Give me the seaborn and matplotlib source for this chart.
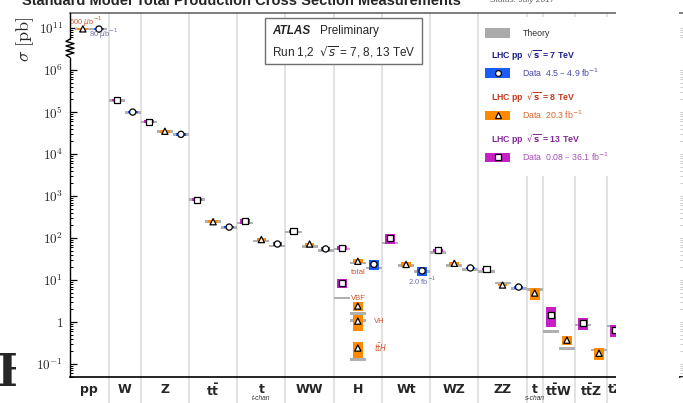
import numpy as np
import pandas as pd
import matplotlib
matplotlib.use('Agg')
import matplotlib.pyplot as plt
import seaborn as sns
from matplotlib.patches import Rectangle
from matplotlib.transforms import Bbox

# ---- values ----
categories = ['pp', 'W', 'Z', 'tt', 't_t', 'WW', 'H', 'Wt', 'WZ', 'ZZ', 't_s', 'ttW', 'ttZ', 'tZ']
cat_labels = ['pp', 'W', 'Z', r'$\mathbf{t\bar{t}}$', 't', 'WW', 'H', 'Wt', 'WZ', 'ZZ', 't',
              r'$\mathbf{t\bar{t}W}$', r'$\mathbf{t\bar{t}Z}$', 'tZ']
cat_sub = {'t_t': 't-chan', 't_s': 's-chan'}

meas_proc = ['pp', 'pp', 'W', 'W', 'Z', 'Z', 'Z', 'tt', 'tt', 'tt', 't_t', 't_t', 't_t',
             'WW', 'WW', 'WW', 'H', 'H', 'H', 'H', 'H', 'H', 'H', 'Wt', 'Wt', 'Wt',
             'WZ', 'WZ', 'WZ', 'ZZ', 'ZZ', 'ZZ', 't_s', 'ttW', 'ttW', 'ttZ', 'ttZ', 'tZ']
meas_sqrts = [8, 7, 13, 7, 13, 8, 7, 13, 8, 7, 13, 8, 7,
              13, 8, 7, 13, 8, 7, 13, 8, 8, 8, 13, 8, 7,
              13, 8, 7, 13, 8, 7, 8, 13, 8, 13, 8, 13]
meas_xsec = [9.6e10, 9.5e10, 1.95e5, 1.0e5, 5.9e4, 3.5e4, 2.95e4, 820, 245, 182, 252, 92, 72,
             147, 72, 55, 58, 28, 23.6, 8.4, 2.4, 1.05, 0.24, 100, 23.5, 16.5,
             51, 25, 19.4, 18.2, 7.6, 6.8, 4.9, 1.5, 0.37, 0.95, 0.18, 0.64]
meas_err = [1.5e9, 2e9, 6e3, 3e3, 2e3, 1e3, 1e3, 35, 10, 7, 35, 7, 8,
            12, 6, 5, 5, 3, 6.5, 2, 0.55, 0.45, 0.1, 28, 3.5, 4.3,
            2.5, 1.2, 1.2, 1.2, 0.5, 0.6, 1.6, 0.75, 0.09, 0.3, 0.055, 0.21]
theory_xsec = [9.6e10, 9.5e10, 1.9e5, 9.8e4, 5.8e4, 3.4e4, 2.9e4, 830, 250, 177, 229, 85, 65,
               140, 63, 50, 55, 25.5, 19.4, 3.7, 1.6, 1.1, 0.13, 76, 22, 15.7,
               45, 22, 18, 16, 8.5, 6.2, 6.0, 0.6, 0.23, 0.85, 0.215, 0.8]
meas_note = ['500 $\\mu$b$^{-1}$', '80 $\\mu$b$^{-1}$', '', '', '', '', '', '', '', '', '', '', '',
             '', '', '', '', 'total', '', '', 'VBF', 'VH', r'$t\bar{t}H$', '', '', '2.0 fb$^{-1}$',
             '', '', '', '', '', '', '', '', '', '', '', '']

# ---- layout / style ----
cat_width = [2.4, 2, 3, 3, 3, 3, 3, 3, 3, 3, 1, 2, 2, 1.0]
first_offset = {'pp': 0.8}
colors = {7: '#1a5cf5', 8: '#ff8a00', 13: '#c51fc5'}
markers = {13: 's', 8: '^', 7: 'o'}
note_style = {  # dx, dy in pixels, ha, colour
    '500 $\\mu$b$^{-1}$': (3, -7, 'center', '#d0603e'),
    '80 $\\mu$b$^{-1}$': (5, 5, 'center', '#7070b0'),
    'total': (0, 11, 'center', '#d0502a'),
    'VBF': (1, -8, 'center', '#d0502a'),
    'VH': (16, 0, 'left', '#d0502a'),
    r'$t\bar{t}H$': (16, 0, 'left', '#d0502a'),
    '2.0 fb$^{-1}$': (0, 10, 'center', '#7070b0'),
}

sns.set_theme(style='white')
plt.rcParams['font.family'] = ['Liberation Sans', 'DejaVu Sans']
plt.rcParams['mathtext.fontset'] = 'dejavusans'


# broken log axis: 10^6.4 .. 10^10.6 squeezed into 0.2 decade
def fwd(s):
    L = np.log10(np.clip(np.asarray(s, float), 1e-300, None))
    return np.where(L <= 6.4, L, np.where(L >= 10.6, L - 4.0, 6.4 + (L - 6.4) * 0.2 / 4.2))


def inv(u):
    u = np.asarray(u, float)
    return np.where(u <= 6.4, 10.0 ** u,
                    np.where(u >= 6.6, 10.0 ** (u + 4.0), 10.0 ** (6.4 + (u - 6.4) * 21.0)))


df = pd.DataFrame({'proc': meas_proc, 'sqrts': meas_sqrts, 'xsec': meas_xsec,
                   'err': meas_err, 'theory': theory_xsec, 'note': meas_note})

edges = np.concatenate([[0], np.cumsum(cat_width)])
left = dict(zip(categories, edges[:-1]))
centers = (edges[:-1] + edges[1:]) / 2
slot = []
for p, e in zip(df['proc'], df['sqrts']):
    present = sorted(df.loc[df['proc'] == p, 'sqrts'].unique(), reverse=True)
    slot.append(present.index(e))
df['x'] = [left[p] + first_offset.get(p, 0.5) + k for p, k in zip(df['proc'], slot)]

W, H = 683, 403
AXL, AXR, AXT, AXB = 70, 683, 13, 377
PXU = 42.0  # pixels per decade
SLOT = 16.08  # pixels per slot
fig = plt.figure(figsize=(W / 100, H / 100), dpi=100)
ax = fig.add_axes([AXL / W, (H - AXB) / H, (AXR - AXL) / W, (AXB - AXT) / H])


def axf(px, py):
    return (px - AXL) / (AXR - AXL), (AXB - py) / (AXB - AXT)


ax.set_yscale('function', functions=(fwd, inv))
ylim = (float(inv(-1.31)), float(inv(7.36)))

# category separators
for xe in edges[1:-1]:
    ax.axvline(xe, ymin=-(H - AXB) / (AXB - AXT), ymax=1, color='#dddddd', lw=1.2,
               zorder=0.5, clip_on=False)

# theory bands
u_th = fwd(df['theory'])
h_th = 1.3 / PXU
ax.bar(df['x'], inv(u_th + h_th) - inv(u_th - h_th), bottom=inv(u_th - h_th), width=1.0,
       color='#b0b0b0', edgecolor='none', zorder=2)

# data uncertainty boxes
u = fwd(df['xsec'])
u_lo = np.minimum(fwd(np.clip(df['xsec'] - df['err'], 1e-6, None)), u - 1.3 / PXU)
u_hi = np.maximum(fwd(df['xsec'] + df['err']), u + 1.3 / PXU)
ax.bar(df['x'], inv(u_hi) - inv(u_lo), bottom=inv(u_lo), width=0.6,
       color=[colors[e] for e in df['sqrts']], edgecolor='none', zorder=3)

sns.scatterplot(data=df, x='x', y='xsec', style='sqrts', markers=markers, color='white',
                edgecolor='black', linewidth=0.9, s=20, legend=False, ax=ax, zorder=5)

for _, r in df[df['note'] != ''].iterrows():
    dx, dy, ha, c = note_style[r['note']]
    ax.annotate(r['note'], (r['x'], r['xsec']), xytext=(dx * 0.72, -dy * 0.72),
                textcoords='offset points', ha=ha, va='center', fontsize=5.5, color=c, zorder=6)

ax.set_xlim(0, (AXR - AXL) / SLOT)
ax.set_ylim(*ylim)
ax.set_xlabel('')
ax.set_ylabel('')

# axes frame
for s in ['left', 'right']:
    ax.spines[s].set_visible(False)
ax.spines['bottom'].set_color('black')
ax.spines['bottom'].set_linewidth(1.2)
ax.spines['top'].set_color('#666666')
ax.spines['top'].set_linewidth(1.2)
ytr = ax.get_yaxis_transform()
ax.plot([0, 0], [ylim[0], float(inv(6.30))], transform=ytr, color='black', lw=1.0,
        clip_on=False, zorder=6)
ax.plot([0, 0], [float(inv(6.74)), ylim[1]], transform=ytr, color='black', lw=1.0,
        clip_on=False, zorder=6)
zz_u = np.linspace(6.30, 6.74, 9)
zz_x = np.array([0, -1, 1, -1, 1, -1, 1, -1, 0]) * 4.0 / (AXR - AXL)
ax.plot(zz_x, inv(zz_u), transform=ytr, color='black', lw=1.0, clip_on=False, zorder=6)

major_vals = [0.1, 1, 10, 1e2, 1e3, 1e4, 1e5, 1e6, 1e11]
major_lbls = [r'$10^{-1}$', r'$1$', r'$10^{1}$', r'$10^{2}$', r'$10^{3}$', r'$10^{4}$',
              r'$10^{5}$', r'$10^{6}$', r'$10^{11}$']
minor_vals = [m * 10.0 ** d for d in list(range(-2, 7)) + [10] for m in range(2, 10)]
minor_vals = [v for v in minor_vals
              if ylim[0] < v < ylim[1] and (fwd(v) < 6.28 or fwd(v) > 6.76)]
ax.set_yticks(major_vals)
ax.set_yticklabels(major_lbls, fontsize=9.5, math_fontfamily='cm')
ax.set_yticks(minor_vals, minor=True)
ax.tick_params(axis='y', which='major', left=True, direction='in', length=5, width=0.9,
               color='black', pad=5)
ax.tick_params(axis='y', which='minor', left=True, direction='in', length=2.5, width=0.7,
               color='black')
ax.set_xticks(centers)
ax.set_xticklabels(cat_labels, fontsize=9, fontweight='bold', family='DejaVu Sans')
ax.tick_params(axis='x', length=0, pad=4)
for c, xc in zip(categories, centers):
    if c in cat_sub:
        ax.text(xc, -(399 - AXB) / (AXB - AXT), cat_sub[c], transform=ax.get_xaxis_transform(),
                ha='center', va='center', fontsize=4.8, style='italic', color='#333333')

# ATLAS box
bx0, by0 = axf(265, 64)
bx1, by1 = axf(422, 18)
ax.add_patch(Rectangle((bx0, by0), bx1 - bx0, by1 - by0, transform=ax.transAxes,
                       fc='white', ec='#707070', lw=1.0, zorder=1))
ax.text(*axf(272, 31), 'ATLAS', transform=ax.transAxes, fontsize=8.5, fontweight='bold',
        style='italic', va='center', ha='left', zorder=7)
ax.text(*axf(320, 31), 'Preliminary', transform=ax.transAxes, fontsize=8.5,
        va='center', ha='left', zorder=7)
ax.text(*axf(272, 52), r'Run 1,2  $\sqrt{s}$ = 7, 8, 13 TeV', transform=ax.transAxes,
        fontsize=8.5, va='center', ha='left', zorder=7)

# legend panel
lx0, ly0 = axf(480, 176)
lx1, ly1 = axf(615, 17)
ax.add_patch(Rectangle((lx0, ly0), lx1 - lx0, ly1 - ly0, transform=ax.transAxes,
                       fc='white', ec='none', zorder=1))


def swatch(py, col, mk=None):
    sx0, sy0 = axf(485, py + 4.5)
    sx1, sy1 = axf(510, py - 4.5)
    ax.add_patch(Rectangle((sx0, sy0), sx1 - sx0, sy1 - sy0, transform=ax.transAxes,
                           fc=col, ec='none', zorder=7))
    if mk:
        ax.plot(*axf(497.5, py), marker=mk, ms=4.2, mfc='white', mec='black', mew=0.9,
                transform=ax.transAxes, zorder=8)


swatch(33, '#aaaaaa')
ax.text(*axf(523, 34), 'Theory', transform=ax.transAxes, fontsize=6.3, va='center',
        color='#333333', zorder=8)
leg = [(7, 56, 73, '#1c1c8c', '#4a4aa8', 'Data  4.5 – 4.9 fb$^{-1}$'),
       (8, 98, 115, '#c8381c', '#d8642e', 'Data  20.3 fb$^{-1}$'),
       (13, 140, 157, '#86269a', '#a850b8', 'Data  0.08 – 36.1 fb$^{-1}$')]
for e, yh, yd, ch, cd, txt in leg:
    ax.text(*axf(491, yh), r'LHC pp  $\mathbf{\sqrt{s}}$ = %d TeV' % e, transform=ax.transAxes,
            fontsize=6.3, fontweight='bold', va='center', color=ch, zorder=8)
    swatch(yd, colors[e], markers[e])
    ax.text(*axf(522, yd), txt, transform=ax.transAxes, fontsize=6.3, va='center',
            color=cd, zorder=8)

# titles and side labels
fig.text(22 / W, 1 - 5 / H, 'Standard Model Total Production Cross Section Measurements',
         ha='left', va='baseline', fontsize=10.5, fontweight='bold')
fig.text(490 / W, 1 - 1.5 / H, 'Status: July 2017', ha='left', va='baseline', fontsize=6,
         style='italic', color='#666666')
fig.text(25 / W, 1 - 39 / H, r'$\sigma\ [\mathrm{pb}]$', rotation=90, ha='center',
         va='center', fontsize=13, math_fontfamily='cm')
big = fig.text(-3 / W, 1 - 386 / H, 'H', ha='left', va='baseline', fontsize=32,
               fontweight='bold', family='DejaVu Serif')
big.set_clip_box(Bbox([[0, 0], [15.5, H]]))
big.set_clip_on(True)

# right-hand part of the frame is blank with only faint ticks
fig.add_artist(Rectangle((615.5 / W, 0), 63 / W, 1, transform=fig.transFigure,
                         fc='white', ec='none', zorder=5))
ax2 = fig.add_axes([682.5 / W, (H - AXB) / H, 0.0005, (AXB - AXT) / H])
ax2.set_zorder(6)
ax2.set_yscale('function', functions=(fwd, inv))
ax2.set_ylim(*ylim)
ax2.set_yticks(major_vals)
ax2.set_yticks(minor_vals, minor=True)
ax2.set_xticks([])
ax2.tick_params(axis='y', which='both', left=True, direction='out', length=2.2, width=0.7,
                color='#cccccc', labelleft=False)
for s in ax2.spines.values():
    s.set_visible(False)
ax2.patch.set_visible(False)

fig.savefig('out.png', dpi=100)
